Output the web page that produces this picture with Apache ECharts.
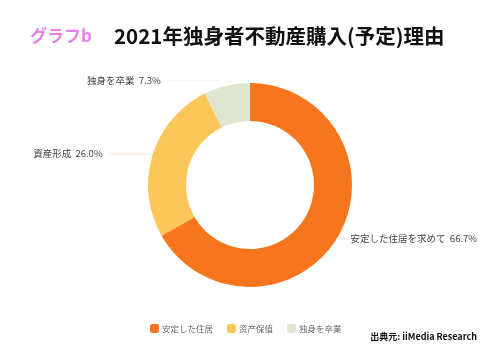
<!DOCTYPE html>
<html>
<head>
<meta charset="utf-8">
<script src="https://cdn.jsdelivr.net/npm/echarts@6/dist/echarts.min.js"></script>
<style>
  html, body { margin: 0; padding: 0; background: #fff; }
  #chart { width: 498px; height: 353px; }
</style>
</head>
<body>
<div id="chart"></div>
<script>
// データ
const legendNames = ['安定した住居', '资产保值', '独身を卒業'];
const labelNames = ['安定した住居を求めて', '資産形成', '独身を卒業'];
const values = [66.7, 26.0, 7.3];

const COLORS = ['#f7751d', '#fbc65a', '#dfe6cf'];
const LINE2 = [3, 40, 60];  // ラベル線の水平部分

const chart = echarts.init(document.getElementById('chart'));
const FONT = '"Noto Sans CJK JP", sans-serif';

const option = {
  backgroundColor: '#fff',
  title: [
    {
      text: 'グラフb', left: 25, top: 22,
      textStyle: { color: '#ea7ee8', fontSize: 17, fontWeight: 'bold', fontFamily: FONT },
    },
    {
      text: '2021年独身者不動産購入(予定)理由', left: 109, top: 21,
      textStyle: { color: '#111', fontSize: 20.5, fontWeight: 'bold', fontFamily: FONT },
    },
    {
      text: '出典元: iiMedia Research', right: 16, top: 327,
      textStyle: { color: '#111', fontSize: 9, fontWeight: 'bold', fontFamily: FONT },
    },
  ],
  legend: {
    data: legendNames,
    left: 145, top: 319,
    itemWidth: 9, itemHeight: 9, itemGap: 14,
    icon: 'roundRect',
    textStyle: { color: '#666', fontSize: 8.5, fontFamily: FONT, padding: [0, 0, 0, -2] },
  },
  series: [{
    type: 'pie',
    center: [250, 185],
    radius: [64, 102],
    startAngle: 90,
    clockwise: true,
    avoidLabelOverlap: false,
    label: {
      color: '#444', fontSize: 9.5, fontFamily: FONT,
      formatter: p => labelNames[p.dataIndex] + '  ' + p.value.toFixed(1) + '%',
    },
    labelLine: { length: 5, lineStyle: { width: 1, opacity: 0.35 } },
    emphasis: { disabled: true },
    data: values.map((v, i) => ({
      name: legendNames[i],
      value: v,
      itemStyle: { color: COLORS[i] },
      labelLine: { length2: LINE2[i] },
    })),
  }],
};
chart.setOption(option);
</script>
</body>
</html>
